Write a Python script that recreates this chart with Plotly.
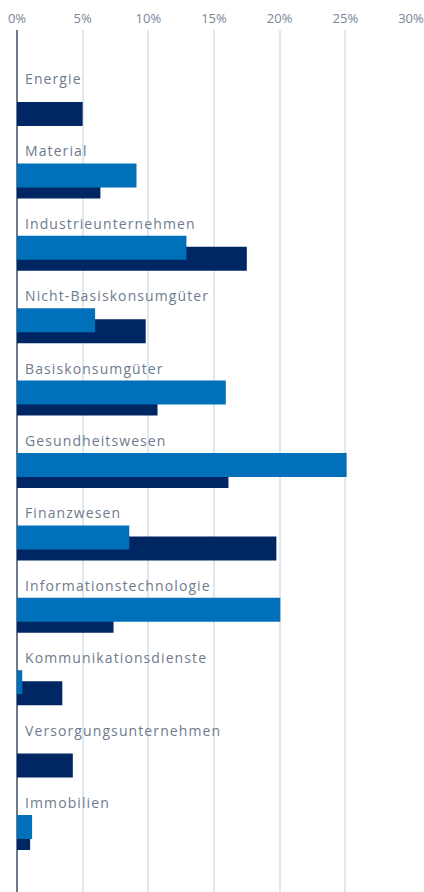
import plotly.graph_objects as go

categories = ["Energie", "Material", "Industrieunternehmen", "Nicht-Basiskonsumgüter",
              "Basiskonsumgüter", "Gesundheitswesen", "Finanzwesen",
              "Informationstechnologie", "Kommunikationsdienste",
              "Versorgungsunternehmen", "Immobilien"]
fund = [0.0, 9.1, 12.9, 5.95, 15.9, 25.1, 8.55, 20.05, 0.4, 0.0, 1.15]
benchmark = [5.0, 6.35, 17.5, 9.8, 10.7, 16.1, 19.75, 7.35, 3.45, 4.25, 1.0]
tick_vals = [0, 5, 10, 15, 20, 25, 30]
tick_text = ["0%", "5%", "10%", "15%", "20%", "25%", "30%"]

LIGHT = "#0070BA"
DARK = "#002663"
pos = list(range(len(categories)))

fig = go.Figure()
fig.add_trace(go.Bar(y=pos, x=benchmark, orientation="h", marker_color=DARK,
                     marker_line_width=0, width=0.3315, offset=-0.0898, name="Benchmark"))
fig.add_trace(go.Bar(y=pos, x=fund, orientation="h", marker_color=LIGHT,
                     marker_line_width=0, width=0.3315, offset=-0.2417, name="Fonds"))

for i, c in enumerate(categories):
    fig.add_annotation(x=0, y=i, xref="x", yref="y",
                       text=f'<span style="letter-spacing:1.1px">{c}</span>',
                       showarrow=False, xanchor="left", yanchor="middle",
                       xshift=6, yshift=30,
                       font=dict(family="Open Sans", size=14, color="#6e7b8e"))

fig.update_layout(
    width=424, height=892, barmode="overlay", showlegend=False,
    plot_bgcolor="white", paper_bgcolor="white",
    margin=dict(l=17, r=13, t=30, b=0, autoexpand=False),
    xaxis=dict(side="top", range=[0, 30], tickvals=tick_vals, ticktext=tick_text,
               showgrid=True, gridcolor="#dfe7ef", gridwidth=2,
               zeroline=True, zerolinecolor="#6c7a8c", zerolinewidth=2,
               tickfont=dict(family="Open Sans", size=13, color="#7a8597"),
               ticks="", showline=False, fixedrange=True, automargin=False,
               ticklabeloverflow="allow", ticklabelstandoff=3),
    yaxis=dict(range=[10.822, -1.084], showticklabels=False, showgrid=False,
               zeroline=False, showline=False, fixedrange=True, automargin=False),
)
fig.write_html("out.html", config={"displayModeBar": False, "staticPlot": True},
               post_script="document.body.style.margin='0';document.body.style.overflow='hidden';")
